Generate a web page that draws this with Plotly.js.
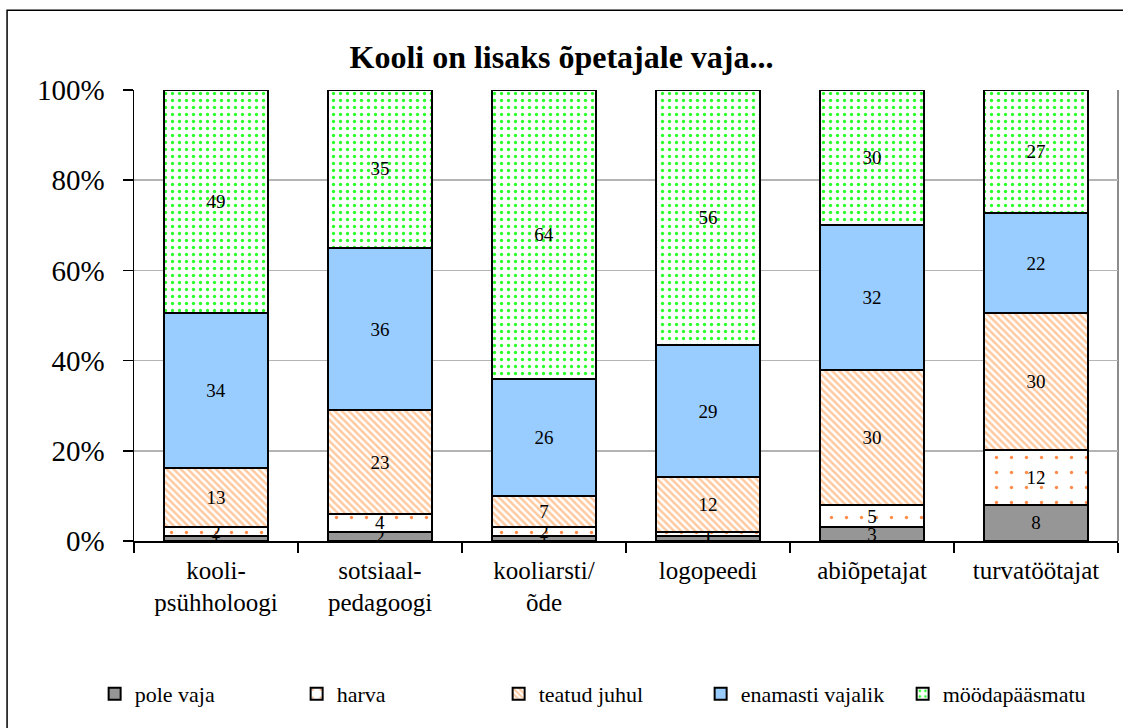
<!DOCTYPE html>
<html>
<head>
<meta charset="utf-8">
<script src="https://cdn.plot.ly/plotly-3.0.1.min.js"></script>
<style>html,body{margin:0;padding:0;background:#fff;}#chart{width:1123px;height:728px;}</style>
</head>
<body>
<div id="chart"></div>
<script>
const categories = ['kooli-<br>psühholoogi', 'sotsiaal-<br>pedagoogi', 'kooliarsti/<br>õde', 'logopeedi', 'abiõpetajat', 'turvatöötajat'];
const seriesNames = ['pole vaja', 'harva', 'teatud juhul', 'enamasti vajalik', 'möödapääsmatu'];
const poleVaja = [1, 2, 1, 1, 3, 8];
const harva = [2, 4, 2, 1, 5, 12];
const teatudJuhul = [13, 23, 7, 12, 30, 30];
const enamastiVajalik = [34, 36, 26, 29, 32, 22];
const moodapaasmatu = [49, 35, 64, 56, 30, 27];
const yTicks = [0, 20, 40, 60, 80, 100];

const FONT = 'Liberation Serif';
const styles = [
  {color: '#969696'},
  {color: '#ffffff', pattern: {shape: '.', fgcolor: '#ff8c4a', bgcolor: '#ffffff', size: 15, solidity: 0.04, fillmode: 'replace'}},
  {color: '#ffffff', pattern: {shape: '\\', fgcolor: '#ffc9a0', bgcolor: '#ffffff', size: 5, solidity: 0.5, fillmode: 'replace'}},
  {color: '#99ccff'},
  {color: '#ffffff', pattern: {shape: '.', fgcolor: '#2bff2b', bgcolor: '#ffffff', size: 7, solidity: 0.18, fillmode: 'replace'}}
];
const allSeries = [poleVaja, harva, teatudJuhul, enamastiVajalik, moodapaasmatu];

const traces = allSeries.map((vals, i) => ({
  type: 'bar',
  name: seriesNames[i],
  x: categories,
  y: vals,
  text: vals.map(String),
  textposition: 'inside',
  insidetextanchor: 'middle',
  constraintext: 'none',
  textangle: 0,
  textfont: {family: FONT, size: 19, color: '#000'},
  marker: Object.assign({line: {color: '#000', width: 2}}, styles[i]),
  hoverinfo: 'skip'
}));

const layout = {
  width: 1123, height: 728,
  margin: {l: 134, r: 5, t: 90, b: 187},
  paper_bgcolor: '#fff', plot_bgcolor: '#fff',
  barmode: 'stack', barnorm: 'percent', bargap: 0.37,
  title: {text: '<b>Kooli on lisaks õpetajale vaja...</b>', font: {family: FONT, size: 32, color: '#000'}, x: 0.5, xanchor: 'center', y: 1 - 57/728, yanchor: 'middle'},
  font: {family: FONT, color: '#000'},
  xaxis: {
    type: 'category',
    showline: true, linecolor: '#000', linewidth: 1.5,
    ticks: 'outside', tickson: 'boundaries', ticklen: 10, tickcolor: '#000', tickwidth: 1.5,
    tickfont: {family: FONT, size: 25, color: '#000'},
    ticklabelstandoff: 6,
    showgrid: false, zeroline: false
  },
  yaxis: {
    range: [0, 100], tickvals: yTicks, ticktext: yTicks.map(v => v + '%'),
    showline: true, linecolor: '#000', linewidth: 1.5,
    ticks: 'outside', ticklen: 10, tickcolor: '#000', tickwidth: 1.5,
    tickfont: {family: FONT, size: 29, color: '#000'},
    ticklabelstandoff: 12,
    showgrid: true, gridcolor: '#b4b4b4', gridwidth: 1.5, zeroline: false
  },
  legend: {
    orientation: 'h', x: -0.04, xanchor: 'left', y: -0.339, yanchor: 'middle',
    font: {family: FONT, size: 22, color: '#000'},
    entrywidth: 157, entrywidthmode: 'pixels',
    traceorder: 'normal'
  },
  showlegend: true,
  shapes: [
    {type: 'line', xref: 'paper', yref: 'paper', x0: 1, x1: 1, y0: 0, y1: 1, line: {color: '#8c8c8c', width: 2}, layer: 'below'},
    {type: 'rect', xref: 'paper', yref: 'paper', x0: -0.129, x1: 1.2, y0: -0.6, y1: 1.177, line: {color: '#000', width: 1.5}, fillcolor: 'rgba(0,0,0,0)', layer: 'below'}
  ]
};

Plotly.newPlot('chart', traces, layout, {staticPlot: true, displayModeBar: false});
</script>
</body>
</html>
